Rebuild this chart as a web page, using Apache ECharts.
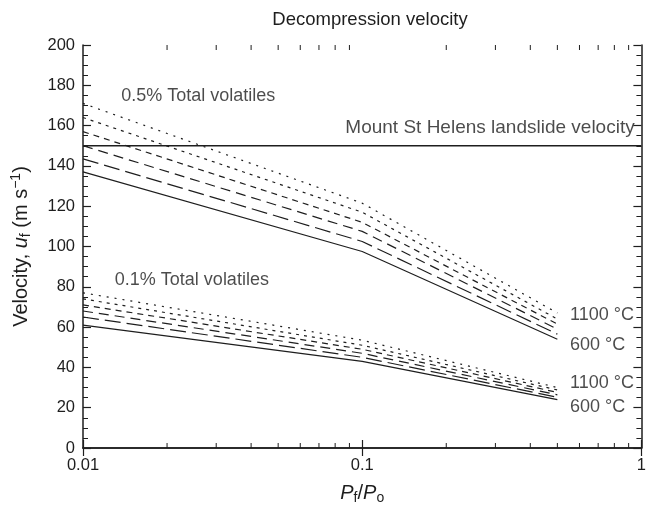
<!DOCTYPE html>
<html>
<head>
<meta charset="utf-8">
<script src="https://cdn.jsdelivr.net/npm/echarts@6/dist/echarts.min.js"></script>
<style>
  html, body { margin: 0; padding: 0; background: #fff; }
  #chart { width: 649px; height: 510px; }
</style>
</head>
<body>
<div id="chart"></div>
<script>
// pressure ratio Pf/Po where the curves are given
var ratios = [0.01, 0.1, 0.5];
var temps = ['600', '700', '800', '900', '1000', '1100'];

// 0.5 % total volatiles, one array per temperature (600 .. 1100 C)
var vol05_600 = [137, 97.5, 54];
var vol05_700 = [143.5, 102.5, 56.5];
var vol05_800 = [150, 107.5, 59];
var vol05_900 = [157, 112, 61.5];
var vol05_1000 = [164, 117, 64];
var vol05_1100 = [171, 121.5, 67];

// 0.1 % total volatiles
var vol01_600 = [61, 43, 24];
var vol01_700 = [65, 45, 25.2];
var vol01_800 = [68, 47, 26.4];
var vol01_900 = [71, 49, 27.6];
var vol01_1000 = [74, 51, 28.8];
var vol01_1100 = [77, 53.5, 30];

var landslideVelocity = 150;
var xTickLabels = ['0.01', '0.1', '1'];
var xMinorTicks = [0.02, 0.03, 0.04, 0.05, 0.06, 0.07, 0.08, 0.09,
                   0.2, 0.3, 0.4, 0.5, 0.6, 0.7, 0.8, 0.9];

var group05 = [vol05_600, vol05_700, vol05_800, vol05_900, vol05_1000, vol05_1100];
var group01 = [vol01_600, vol01_700, vol01_800, vol01_900, vol01_1000, vol01_1100];

var dashes = ['solid', [16, 6], [10, 6], [6, 5], [3, 5], [2, 6]];
var ink = '#1e1e1e';
var font = 'Liberation Sans, Arial, sans-serif';

var chart = echarts.init(document.getElementById('chart'));

function curve (name, vals, i) {
  return {
    name: name,
    type: 'line',
    data: ratios.map(function (r, k) { return [r, vals[k]]; }),
    symbol: 'none',
    lineStyle: { color: ink, width: 1.2, type: dashes[i] },
    silent: true,
    z: 2
  };
}

function note (x, y, text, size) {
  return {
    value: [x, y],
    label: { show: true, formatter: text, position: 'right', distance: 0,
             color: ink, fontSize: size || 18, fontFamily: font }
  };
}

var series = [];
group05.forEach(function (v, i) { series.push(curve('0.5% ' + temps[i], v, i)); });
group01.forEach(function (v, i) { series.push(curve('0.1% ' + temps[i], v, i)); });

series.push({
  name: 'landslide',
  type: 'line',
  data: [[0.01, landslideVelocity], [1, landslideVelocity]],
  symbol: 'none',
  lineStyle: { color: ink, width: 1.3 },
  silent: true
});

series.push({
  name: 'notes',
  type: 'scatter',
  symbolSize: 0,
  silent: true,
  data: [
    note(0.0137, 174.5, '0.5% Total volatiles'),
    note(0.0130, 83.5, '0.1% Total volatiles'),
    note(0.087, 159, 'Mount St Helens landslide velocity', 19),
    note(0.555, 66, '1100 \u00b0C'),
    note(0.555, 51, '600 \u00b0C'),
    note(0.555, 32, '1100 \u00b0C'),
    note(0.555, 20.5, '600 \u00b0C')
  ]
});

// minor ticks of the log axis (2..9 in each decade), top and bottom
series.push({
  name: 'logMinor',
  type: 'custom',
  silent: true,
  data: xMinorTicks.map(function (v) { return [v, 0]; }),
  renderItem: function (params, api) {
    var b = api.coord([api.value(0), 0]);
    var t = api.coord([api.value(0), 200]);
    var st = { stroke: ink, lineWidth: 1 };
    return {
      type: 'group',
      children: [
        { type: 'line', shape: { x1: b[0], y1: b[1], x2: b[0], y2: b[1] - 5 }, style: st },
        { type: 'line', shape: { x1: t[0], y1: t[1], x2: t[0], y2: t[1] + 5 }, style: st }
      ]
    };
  },
  z: 3
});

var axisLine = { show: true, lineStyle: { color: ink, width: 1.5 } };

var option = {
  backgroundColor: '#fff',
  animation: false,
  title: {
    text: 'Decompression velocity',
    left: 365,
    top: 5,
    textAlign: 'center',
    textStyle: { color: ink, fontSize: 18.5, fontWeight: 'normal', fontFamily: font }
  },
  grid: { left: 83, right: 1, top: 45, bottom: 58 },
  xAxis: [
    {
      type: 'log',
      logBase: 10,
      min: 0.01,
      max: 1,
      name: '{i|P}{s|f}{n|/}{i|P}{s|o}',
      nameLocation: 'middle',
      nameGap: 33,
      nameTextStyle: {
        fontSize: 20, color: ink, fontFamily: font,
        rich: {
          i: { fontSize: 20, fontStyle: 'italic', color: ink, fontFamily: font },
          n: { fontSize: 20, color: ink, fontFamily: font },
          s: { fontSize: 14, color: ink, fontFamily: font, padding: [10, 0, 0, 0] }
        }
      },
      axisLine: axisLine,
      axisTick: { show: true, inside: true, length: 8, lineStyle: { color: ink, width: 1.2 } },
      axisLabel: {
        color: ink, fontSize: 16.5, fontFamily: font, margin: 9,
        formatter: function (v) {
          var s = String(parseFloat(v.toPrecision(6)));
          return xTickLabels.indexOf(s) >= 0 ? s : '';
        }
      },
      splitLine: { show: false }
    },
    {
      type: 'log',
      logBase: 10,
      min: 0.01,
      max: 1,
      position: 'top',
      axisLine: axisLine,
      axisTick: { show: true, inside: true, length: 8, lineStyle: { color: ink, width: 1.2 } },
      axisLabel: { show: false },
      splitLine: { show: false }
    }
  ],
  yAxis: [
    {
      type: 'value',
      min: 0,
      max: 200,
      interval: 20,
      name: 'Velocity, {i|u}{s|f} (m s{p|\u22121})',
      nameLocation: 'middle',
      nameGap: 50,
      nameTextStyle: {
        fontSize: 20, color: ink, fontFamily: font,
        rich: {
          i: { fontSize: 20, fontStyle: 'italic', color: ink, fontFamily: font },
          s: { fontSize: 14, color: ink, fontFamily: font, padding: [10, 0, 0, 0] },
          p: { fontSize: 14, color: ink, fontFamily: font, padding: [0, 0, 10, 0] }
        }
      },
      axisLine: axisLine,
      axisTick: { show: true, inside: true, length: 8, lineStyle: { color: ink, width: 1.2 } },
      minorTick: { show: true, splitNumber: 4, length: 5, lineStyle: { color: ink, width: 1 } },
      axisLabel: { color: ink, fontSize: 16.5, fontFamily: font, margin: 8 },
      splitLine: { show: false }
    },
    {
      type: 'value',
      min: 0,
      max: 200,
      interval: 20,
      position: 'right',
      axisLine: axisLine,
      axisTick: { show: true, inside: true, length: 8, lineStyle: { color: ink, width: 1.2 } },
      minorTick: { show: true, splitNumber: 4, length: 5, lineStyle: { color: ink, width: 1 } },
      axisLabel: { show: false },
      splitLine: { show: false }
    }
  ],
  series: series
};

chart.setOption(option);
</script>
</body>
</html>
